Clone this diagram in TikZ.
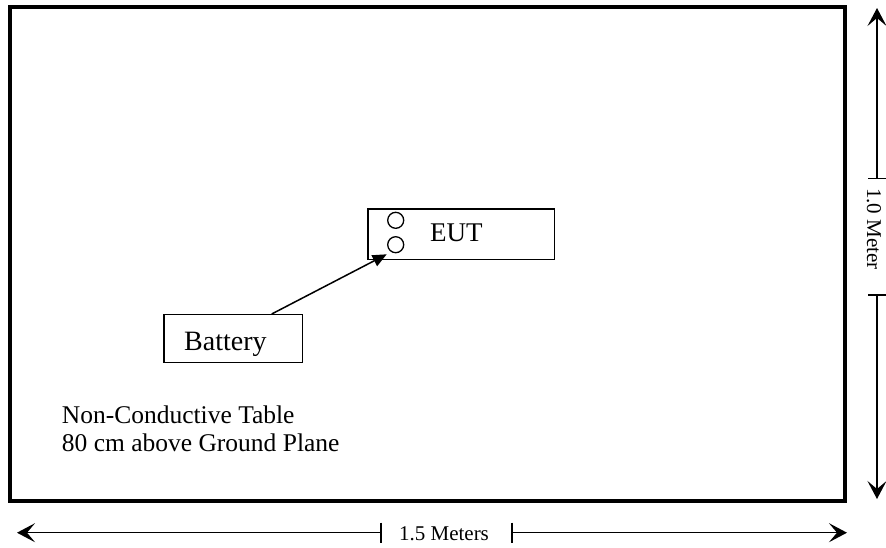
\documentclass[tikz,border=0pt]{standalone}
\usepackage{fontspec}
\setmainfont{Liberation Serif}
\usetikzlibrary{arrows.meta}
\begin{document}
\begin{tikzpicture}[x=1pt,y=-1pt,
  thinbox/.style={draw, line width=1.4pt, inner sep=0pt, anchor=north west},
  port/.style={circle, draw, line width=1.3pt, minimum size=16pt, inner sep=0pt},
  dimline/.style={line width=1.4pt},
  dimtip/.style={-{Stealth[length=18pt,width=19pt,inset=8pt]}},
  bigtxt/.style={inner sep=0pt, anchor=base west, font=\fontsize{27}{30}\selectfont},
  bodytxt/.style={inner sep=0pt, anchor=base west, font=\fontsize{25.5}{29}\selectfont},
  dimtxt/.style={inner sep=0pt, anchor=base, font=\fontsize{21}{24}\selectfont}]
\useasboundingbox (0,0) rectangle (886,547);
% table outline
\draw[line width=4pt] (10,7) rectangle (844.7,501);
% EUT
\node[thinbox, minimum width=186.7pt, minimum height=50.7pt] (eut) at (367.3,208.3) {};
\node[port] (p1) at (395.7,220.3) {};
\node[port] (p2) at (395.7,244.7) {};
\node[bigtxt] (euttxt) at (430,241) {EUT};
% Battery
\node[thinbox, minimum width=138.4pt, minimum height=47.7pt] (batt) at (163.3,314) {};
\node[bigtxt, font=\fontsize{28}{30}\selectfont] (batttxt) at (184,350) {Battery};
\coordinate (a0) at (271.7,314);
\coordinate (a1) at (386.7,254.3);
\draw[line width=1.5pt, -{Triangle[length=14pt,width=12pt]}] (a0) -- (a1);
% labels
\node[bodytxt] (t1) at (61.7,423) {Non-Conductive Table};
\node[bodytxt] (t2) at (61.7,451.7) {80 cm above Ground Plane};
% horizontal dimension
\coordinate (hl) at (17,532.7);
\coordinate (h1) at (381,532.7);
\coordinate (h2) at (512,532.7);
\coordinate (hr) at (847,532.7);
\draw[dimline, dimtip] (h1) -- (hl);
\draw[dimline, dimtip] (h2) -- (hr);
\draw[dimline] (h1) ++(0,-10) -- ++(0,20);
\draw[dimline] (h2) ++(0,-10) -- ++(0,20);
\node[dimtxt] (hlab) at (444,540) {1.5 Meters};
% vertical dimension
\coordinate (vt) at (877,8);
\coordinate (v1) at (877,178.3);
\coordinate (v2) at (877,295);
\coordinate (vb) at (877,499);
\draw[dimline, dimtip] (v1) -- (vt);
\draw[dimline, dimtip] (v2) -- (vb);
\draw[dimline] (v1) ++(-9,0) -- ++(18,0);
\draw[dimline] (v2) ++(-9,0) -- ++(18,0);
\node[dimtxt, rotate=-90] (vlab) at (867,229) {1.0 Meter};
\end{tikzpicture}
\end{document}
